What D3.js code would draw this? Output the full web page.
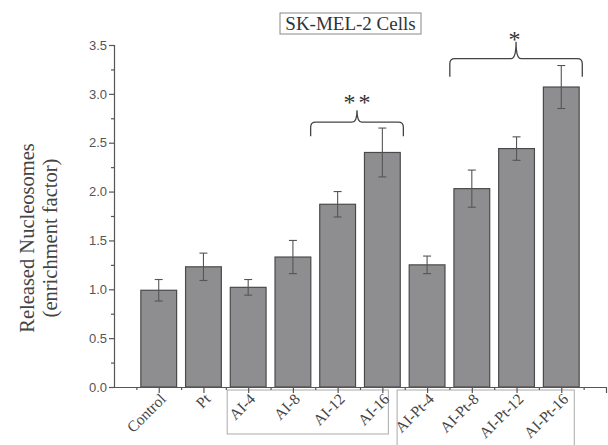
<!DOCTYPE html>
<html><head><meta charset="utf-8">
<script src="https://cdn.jsdelivr.net/npm/d3@7/dist/d3.min.js"></script>
<style>body{margin:0;background:#fff}</style></head>
<body><svg id="c" width="608" height="445"></svg>
<script>
const categories = ["Control","Pt","AI-4","AI-8","AI-12","AI-16","AI-Pt-4","AI-Pt-8","AI-Pt-12","AI-Pt-16"];
const values = [0.99,1.23,1.02,1.33,1.87,2.40,1.25,2.03,2.44,3.07];
const errors = [0.11,0.14,0.08,0.17,0.13,0.25,0.09,0.19,0.12,0.22];
const yTicks = [0.0,0.5,1.0,1.5,2.0,2.5,3.0,3.5];
const bracketFrom = ["AI-12","AI-Pt-8"];
const bracketTo = ["AI-16","AI-Pt-16"];
const bracketLevel = [2.71, 3.36];
const bracketLabel = ["**","*"];
const groupBoxes = [["AI-4","AI-16"],["AI-Pt-4","AI-Pt-16"]];

const svg = d3.select("#c");
const serif = "Liberation Serif, Times New Roman, serif";
const x = d3.scaleLinear().domain([0, categories.length+1]).range([114, 606]);
const y = d3.scaleLinear().domain([0, 3.5]).range([387, 45]);
const axisCol = "#555";
const pos = c => categories.indexOf(c) + 1;
const step = x(1) - x(0);
const bw = step * 0.8;

// group label boxes
const boxCfg = [{l:21, r:6, y0:390, y1:434},{l:30, r:13, y0:390, y1:450}];
groupBoxes.forEach((g,i)=>{
  const x0 = x(pos(g[0])) - boxCfg[i].l, x1 = x(pos(g[1])) + boxCfg[i].r;
  svg.append("rect").attr("x", x0).attr("y", boxCfg[i].y0)
    .attr("width", x1 - x0).attr("height", boxCfg[i].y1 - boxCfg[i].y0)
    .attr("fill","none").attr("stroke","#aaa").attr("stroke-width",1);
});

// bars
svg.selectAll("rect.bar").data(categories).join("rect").attr("class","bar")
  .attr("x", (d)=>x(pos(d)) - bw/2)
  .attr("y", (d,i)=>y(values[i]))
  .attr("width", bw)
  .attr("height", (d,i)=>y(0)-y(values[i]))
  .attr("fill","#8e8e90").attr("stroke","#4a4a4a").attr("stroke-width",1.2);

// error bars
const eg = svg.append("g").attr("stroke","#555").attr("stroke-width",1.1);
categories.forEach((c,i)=>{
  const cx = x(pos(c));
  eg.append("line").attr("x1",cx).attr("x2",cx).attr("y1",y(values[i]+errors[i])).attr("y2",y(values[i]-errors[i]));
  eg.append("line").attr("x1",cx-4).attr("x2",cx+4).attr("y1",y(values[i]+errors[i])).attr("y2",y(values[i]+errors[i]));
  eg.append("line").attr("x1",cx-4).attr("x2",cx+4).attr("y1",y(values[i]-errors[i])).attr("y2",y(values[i]-errors[i]));
});

// y axis
const yAxis = d3.axisLeft(y).tickValues(yTicks).tickFormat(d3.format(".1f")).tickSize(5).tickPadding(2);
const yg = svg.append("g").attr("transform","translate(114,0)").call(yAxis);
const yMinor = d3.axisLeft(y).tickValues(d3.range(0.25,3.5,0.5)).tickFormat("").tickSize(3);
svg.append("g").attr("transform","translate(114,0)").call(yMinor).select(".domain").remove();
yg.selectAll("text").attr("font-family","Liberation Sans, Arial, sans-serif").attr("font-size",13).attr("fill","#555");

// x axis
const xAxis = d3.axisBottom(x).tickValues(d3.range(1, categories.length+2)).tickFormat("").tickSize(6).tickSizeOuter(0);
const xg = svg.append("g").attr("transform","translate(0,387)").call(xAxis);
const xMinor = d3.axisBottom(x).tickValues(d3.range(0.5, categories.length+1, 1)).tickFormat("").tickSize(3);
svg.append("g").attr("transform","translate(0,387)").call(xMinor).select(".domain").remove();
svg.selectAll(".domain, .tick line").attr("stroke",axisCol).attr("stroke-width",1.2);

// x labels
svg.selectAll("text.xl").data(categories).join("text").attr("class","xl")
  .attr("transform", d=>`translate(${x(pos(d))+8},${400}) rotate(-45)`)
  .attr("text-anchor","end")
  .attr("font-family",serif).attr("font-size",15.5)
  .attr("fill","#444").text(d=>d);

// y title
const yt = svg.append("text").attr("transform","translate(0,238) rotate(-90)")
  .attr("text-anchor","middle").attr("font-family",serif)
  .attr("font-size",20.5).attr("fill","#444");
yt.append("tspan").attr("x",0).attr("y",34).text("Released Nucleosomes");
yt.append("tspan").attr("x",0).attr("y",57).text("(enrichment factor)");

// title box
svg.append("rect").attr("x",280).attr("y",13).attr("width",141).attr("height",21)
  .attr("fill","none").attr("stroke","#888").attr("stroke-width",1);
svg.append("text").attr("x",350.5).attr("y",30).attr("text-anchor","middle")
  .attr("font-family",serif).attr("font-size",19)
  .attr("fill","#333").text("SK-MEL-2 Cells");

// brackets
const bStyle = [{l:27, r:21, drop:14, peak:12, ty:0},{l:22, r:21, drop:18, peak:17, ty:5}];
bracketFrom.forEach((f,i)=>{
  const s = bStyle[i];
  const x0 = x(pos(f)) - s.l, x1 = x(pos(bracketTo[i])) + s.r;
  const cx = (x0+x1)/2;
  const yh = y(bracketLevel[i]), ye = yh + s.drop, yp = yh - s.peak;
  const r = 5;
  const p = `M${x0},${ye} L${x0},${yh+r} Q${x0},${yh} ${x0+r},${yh} L${cx-r},${yh} Q${cx},${yh} ${cx},${yp} Q${cx},${yh} ${cx+r},${yh} L${x1-r},${yh} Q${x1},${yh} ${x1},${yh+r} L${x1},${ye}`;
  svg.append("path").attr("d",p).attr("fill","none").attr("stroke","#444").attr("stroke-width",1.3);
  svg.append("text").attr("x",cx + (bracketLabel[i].length>1 ? 1.5 : 0)).attr("y",yp + s.ty).attr("text-anchor","middle")
    .attr("font-family",serif).attr("font-size",24).attr("letter-spacing",3)
    .attr("fill","#333").text(bracketLabel[i]);
});
</script></body></html>
